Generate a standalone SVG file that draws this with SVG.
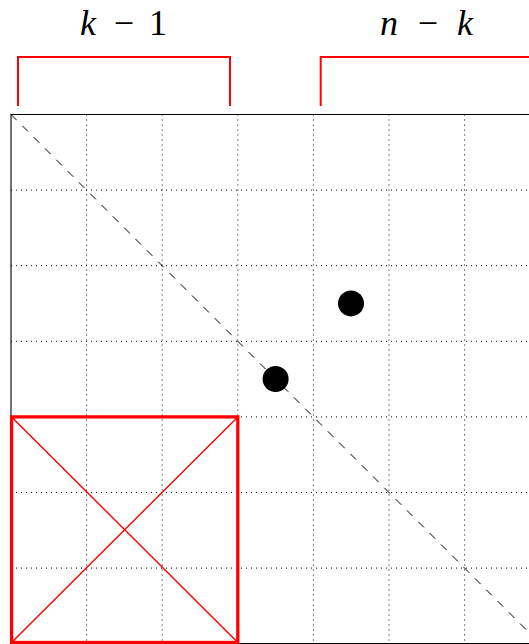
<svg xmlns="http://www.w3.org/2000/svg" width="529" height="644" viewBox="0 0 529 644">
<style>
.grid{stroke:#000;stroke-width:1;stroke-dasharray:1 4;fill:none}
.frame{stroke:#000;stroke-width:1.1;fill:none}
.diag{stroke:#000;stroke-width:1;stroke-dasharray:8 8;fill:none}
.red{stroke:#ff0000;fill:none}
.lbl{font-family:"Liberation Serif","Times New Roman",serif;font-size:36px;fill:#000}
.it{font-style:italic}
</style>
<rect width="529" height="644" fill="#fff"/>
<g id="grid">
<path class="grid" d="M86.6 114.5V643.5M162.2 114.5V643.5M237.8 114.5V643.5M313.4 114.5V643.5M389 114.5V643.5M464.6 114.5V643.5"/>
<path class="grid" d="M11 190.1H529M11 265.7H529M11 341.3H529M11 416.9H529M11 492.5H529M11 568.1H529"/>
</g>
<g id="frame">
<path class="frame" d="M529 114.5H11V643.5H529"/>
</g>
<g id="connectors">
<path class="diag" d="M11 114.5L540 643.5"/>
</g>
<g id="brackets">
<path class="red" stroke-width="2" d="M18 106V57H230V106"/>
<path class="red" stroke-width="2" d="M320.7 106V57H530"/>
</g>
<g id="labels">
<text class="lbl it" x="80" y="35">k</text>
<text class="lbl" x="124" y="35" text-anchor="middle">−</text>
<text class="lbl" x="167" y="35" text-anchor="end">1</text>
<text class="lbl it" x="380" y="35">n</text>
<text class="lbl" x="428" y="35" text-anchor="middle">−</text>
<text class="lbl it" x="473" y="35" text-anchor="end">k</text>
</g>
<g id="dots">
<circle cx="351" cy="303.4" r="13"/>
<circle cx="275.6" cy="379" r="13"/>
</g>
<g id="redbox">
<rect class="red" stroke-width="3.3" x="11.6" y="416.9" width="226.2" height="225.6"/>
<path class="red" stroke-width="1.4" d="M11.6 416.9L237.8 642.5M11.6 642.5L237.8 416.9"/>
</g>
</svg>
